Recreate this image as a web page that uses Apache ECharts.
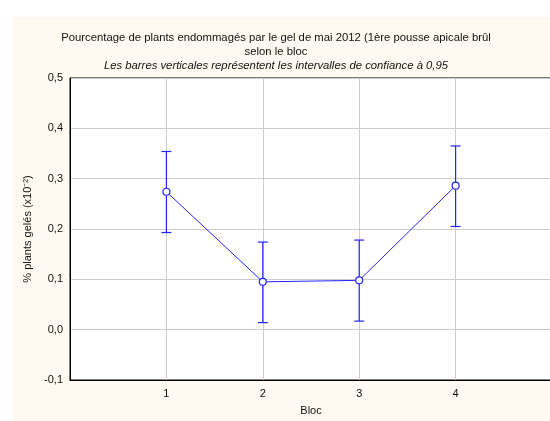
<!DOCTYPE html>
<html>
<head>
<meta charset="utf-8">
<script src="https://cdn.jsdelivr.net/npm/echarts@6/dist/echarts.min.js"></script>
<style>
  html, body { margin: 0; padding: 0; background: #ffffff; overflow: hidden; }
  #chart { position: absolute; left: 13px; top: 17px; width: 542px; height: 404px; }
</style>
</head>
<body>
<div id="chart"></div>
<script>
// données
const blocs = [1, 2, 3, 4];
const moyennes = [0.274, 0.095, 0.098, 0.286];
const bornesInf = [0.193, 0.014, 0.017, 0.205];
const bornesSup = [0.354, 0.174, 0.178, 0.365];
const yTicks = [-0.1, 0.0, 0.1, 0.2, 0.3, 0.4, 0.5];

const bleu = '#2424ff';
const font = 'Liberation Sans, Arial, sans-serif';

let myChart = echarts.init(document.getElementById('chart'));
myChart.setOption({
  backgroundColor: '#fffaf0',
  animation: false,
  textStyle: { fontFamily: font },
  title: {
    text: 'Pourcentage de plants endommagés par le gel de mai 2012 (1ère pousse apicale brûl\nselon le bloc',
    subtext: 'Les barres verticales représentent les intervalles de confiance à 0,95',
    left: 258,
    top: 9,
    textAlign: 'center',
    itemGap: 0,
    textStyle: { fontSize: 11.3, fontWeight: 'normal', color: '#111', lineHeight: 14, fontFamily: font },
    subtextStyle: { fontSize: 11.3, fontStyle: 'italic', color: '#111', lineHeight: 14, fontFamily: font }
  },
  grid: {
    left: 57,
    top: 61,
    right: 2,
    bottom: 41,
    show: true,
    backgroundColor: '#ffffff',
    borderColor: '#000',
    borderWidth: 1
  },
  xAxis: {
    type: 'value',
    min: 0,
    max: 5,
    interval: 1,
    name: 'Bloc',
    nameLocation: 'middle',
    nameGap: 25,
    nameTextStyle: { fontSize: 11, color: '#111' },
    axisLine: { show: true, onZero: false, lineStyle: { color: '#000', width: 1 } },
    axisTick: { show: false },
    axisLabel: {
      fontSize: 11, color: '#111', margin: 8,
      formatter: v => (blocs.indexOf(v) >= 0 ? String(v) : '')
    },
    splitLine: { show: true, lineStyle: { color: '#cccccc', width: 1 } }
  },
  yAxis: {
    type: 'value',
    min: yTicks[0],
    max: yTicks[yTicks.length - 1],
    interval: 0.1,
    name: '% plants gelés (x10⁻²)',
    nameLocation: 'middle',
    nameGap: 37,
    nameTextStyle: { fontSize: 11, color: '#111' },
    axisLine: { show: true, onZero: false, lineStyle: { color: '#000', width: 1 } },
    axisTick: { show: false },
    axisLabel: {
      fontSize: 11, color: '#111', margin: 7,
      formatter: v => v.toFixed(1).replace('.', ',')
    },
    splitLine: { show: true, lineStyle: { color: '#cccccc', width: 1 } }
  },
  series: [
    {
      type: 'custom',
      z: 2,
      data: blocs.map((b, i) => [b, bornesInf[i], bornesSup[i]]),
      renderItem: function (params, api) {
        const hi = api.coord([api.value(0), api.value(2)]);
        const lo = api.coord([api.value(0), api.value(1)]);
        const w = 5;
        const style = { stroke: bleu, lineWidth: 1.2 };
        return {
          type: 'group',
          children: [
            { type: 'line', shape: { x1: hi[0], y1: hi[1], x2: lo[0], y2: lo[1] }, style: style },
            { type: 'line', shape: { x1: hi[0] - w, y1: hi[1], x2: hi[0] + w, y2: hi[1] }, style: style },
            { type: 'line', shape: { x1: lo[0] - w, y1: lo[1], x2: lo[0] + w, y2: lo[1] }, style: style }
          ]
        };
      }
    },
    {
      type: 'line',
      z: 3,
      data: blocs.map((b, i) => [b, moyennes[i]]),
      symbol: 'circle',
      symbolSize: 7,
      showAllSymbol: true,
      lineStyle: { color: bleu, width: 1 },
      itemStyle: { color: '#ffffff', borderColor: bleu, borderWidth: 1.2 }
    }
  ]
});
</script>
</body>
</html>
